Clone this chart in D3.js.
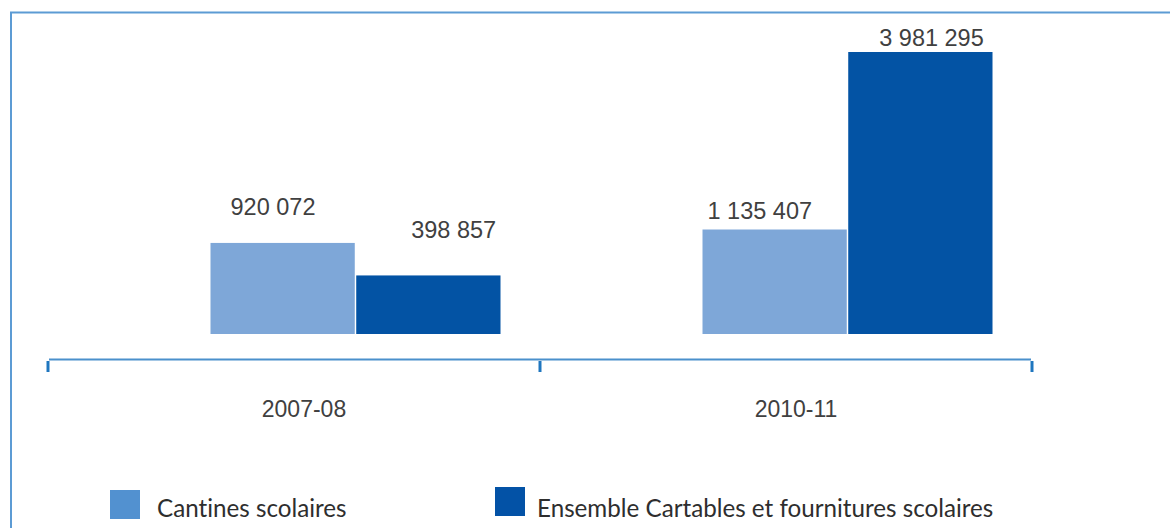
<!DOCTYPE html>
<html>
<head>
<meta charset="utf-8">
<script src="https://cdn.jsdelivr.net/npm/d3@7"></script>
<style>
  html, body { margin: 0; padding: 0; background: #fff; }
  svg { display: block; }
  text { font-variant-ligatures: none; font-feature-settings: "liga" 0, "clig" 0; }
</style>
</head>
<body>
<svg id="chart" width="1170" height="528"></svg>
<script>
// ---- Data ----
const categories = ["2007-08", "2010-11"];
const seriesNames = ["Cantines scolaires", "Ensemble Cartables et fournitures scolaires"];
const cantines = [920072, 1135407];
const cartables = [398857, 3981295];
const valueLabels = [["920 072", "398 857"], ["1 135 407", "3 981 295"]];

// ---- Layout / style (not data) ----
const colors = ["#7ea7d8", "#0353a4"];
const legendColors = ["#5291d0", "#0352a6"];
const labelOffsets = [[[20, -28], [55, -37]], [[5, -11], [31, -6]]]; // [dx, dy] from bar left/top

const svg = d3.select("#chart");
const W = 1170, H = 528;

// frame
svg.append("path")
  .attr("d", `M11,${H} L11,12.5 L${W},12.5`)
  .attr("fill", "none")
  .attr("stroke", "#5c9bd4")
  .attr("stroke-width", 2);

const x = d3.scaleBand().domain(categories).range([48, 1032]).paddingInner(0).paddingOuter(0);
const xs = d3.scaleBand().domain([0, 1]).range([162.5, 452.5]).paddingInner(0.01);
const y = d3.scaleLinear().domain([-540000, 3981295]).range([334, 52]);

const rows = categories.map((c, i) => ({ cat: c, vals: [cantines[i], cartables[i]], i }));

const g = svg.append("g");
rows.forEach(r => {
  r.vals.forEach((v, s) => {
    const bx = x(r.cat) + xs(s);
    const by = y(v);
    g.append("rect")
      .attr("x", bx)
      .attr("y", by)
      .attr("width", xs.bandwidth())
      .attr("height", y(-540000) - by)
      .attr("fill", colors[s]);
    g.append("text")
      .attr("x", bx + labelOffsets[r.i][s][0])
      .attr("y", by + labelOffsets[r.i][s][1])
      .attr("font-family", "'Liberation Sans', Arial, sans-serif")
      .attr("font-size", 23.5)
      .attr("fill", "#404040")
      .text(valueLabels[r.i][s]);
  });
});

// x axis
const axisY = 359.5;
svg.append("line")
  .attr("x1", 49).attr("x2", 1031)
  .attr("y1", axisY).attr("y2", axisY)
  .attr("stroke", "#4a90cc").attr("stroke-width", 2);
const tickPos = categories.map(c => x(c)).concat([x.range()[1]]);
svg.selectAll(".tick").data(tickPos).enter().append("line")
  .attr("x1", d => d).attr("x2", d => d)
  .attr("y1", 361).attr("y2", 372)
  .attr("stroke", "#1f76bf").attr("stroke-width", 3);
svg.selectAll(".cat").data(categories).enter().append("text")
  .attr("x", d => x(d) + x.bandwidth() / 2 + 10)
  .attr("y", 417)
  .attr("text-anchor", "middle")
  .attr("font-family", "'Liberation Sans', Arial, sans-serif")
  .attr("font-size", 23)
  .attr("fill", "#404040")
  .text(d => d);

// legend
const legendX = [110, 495];
seriesNames.forEach((n, s) => {
  svg.append("rect")
    .attr("x", legendX[s]).attr("y", s === 0 ? 490 : 487)
    .attr("width", 30).attr("height", 29)
    .attr("fill", legendColors[s]);
  svg.append("text")
    .attr("x", legendX[s] + (s === 0 ? 47 : 42))
    .attr("y", 516.5)
    .attr("font-family", "Lato, 'Open Sans', sans-serif")
    .attr("font-size", 24.2)
    .attr("fill", "#2e2e2e")
    .text(n);
});
</script>
</body>
</html>
